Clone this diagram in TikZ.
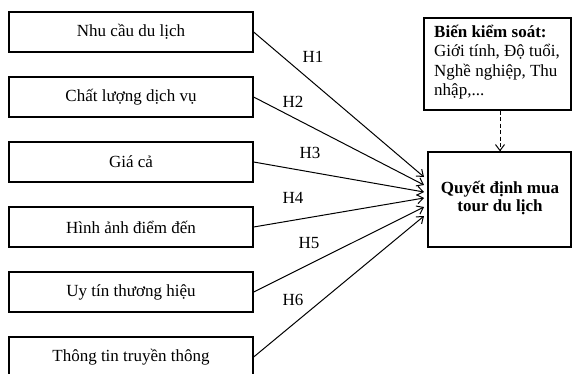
\documentclass[tikz,border=0pt]{standalone}
\usepackage{fontspec}
\setmainfont{Liberation Serif}
\usetikzlibrary{arrows.meta}
\begin{document}
\begin{tikzpicture}[x=1pt,y=-1pt,
  fbox/.style={draw, line width=1.3pt, minimum width=244pt, minimum height=40pt, inner sep=0pt, font=\fontsize{17}{19}\selectfont},
  tip/.style={-{Straight Barb[length=6pt,width=9pt,line width=1pt]}},
  rel/.style={line width=1pt, tip},
  hlab/.style={font=\fontsize{17}{19}\selectfont, inner sep=0pt}]
\useasboundingbox (0,0) rectangle (573,373);
\fill[white] (0,0) rectangle (573,373);
\node[fbox] (b1) at (131,32) {Nhu cầu du lịch};
\node[fbox] (b2) at (131,97) {Chất lượng dịch vụ};
\node[fbox] (b3) at (131,162) {Giá cả};
\node[fbox] (b4) at (131,227) {Hình ảnh điểm đến};
\node[fbox] (b5) at (131,292) {Uy tín thương hiệu};
\node[fbox] (b6) at (131,357) {Thông tin truyền thông};
\node[draw, line width=1.3pt, minimum width=147pt, minimum height=92pt, inner sep=0pt] (c) at (497.5,64) {};
\node[anchor=north west, align=left, inner sep=0pt, font=\fontsize{17}{19.3}\selectfont] (ct) at (434,25) {\textbf{Biến kiểm soát:}\\Giới tính, Độ tuổi,\\Nghề nghiệp, Thu\\nhập,...};
\node[draw, line width=1.3pt, minimum width=143pt, minimum height=95pt, inner sep=0pt] (q) at (499.5,199.5) {};
\node[align=center, font=\bfseries\fontsize{17}{18.5}\selectfont, inner sep=0pt] (qt) at (500,198) {Quyết định mua\\tour du lịch};
\coordinate (t1) at (424,177);
\coordinate (t2) at (424,185);
\coordinate (t3) at (424,192);
\coordinate (t4) at (424,198);
\coordinate (t5) at (424,207);
\coordinate (t6) at (424,216);
\draw[rel] (b1.east) -- (t1);
\draw[rel] (b2.east) -- (t2);
\draw[rel] (b3.east) -- (t3);
\draw[rel] (b4.east) -- (t4);
\draw[rel] (b5.east) -- (t5);
\draw[rel] (b6.east) -- (t6);
\draw[line width=1pt, dash pattern=on 4pt off 2.5pt, tip] (c.south -| 500,0) -- (q.north -| 500,0);
\node[hlab] (h1) at (313,57) {H1};
\node[hlab] (h2) at (293,102) {H2};
\node[hlab] (h3) at (310,153) {H3};
\node[hlab] (h4) at (293,198) {H4};
\node[hlab] (h5) at (309,243) {H5};
\node[hlab] (h6) at (293,300) {H6};
\end{tikzpicture}
\end{document}
